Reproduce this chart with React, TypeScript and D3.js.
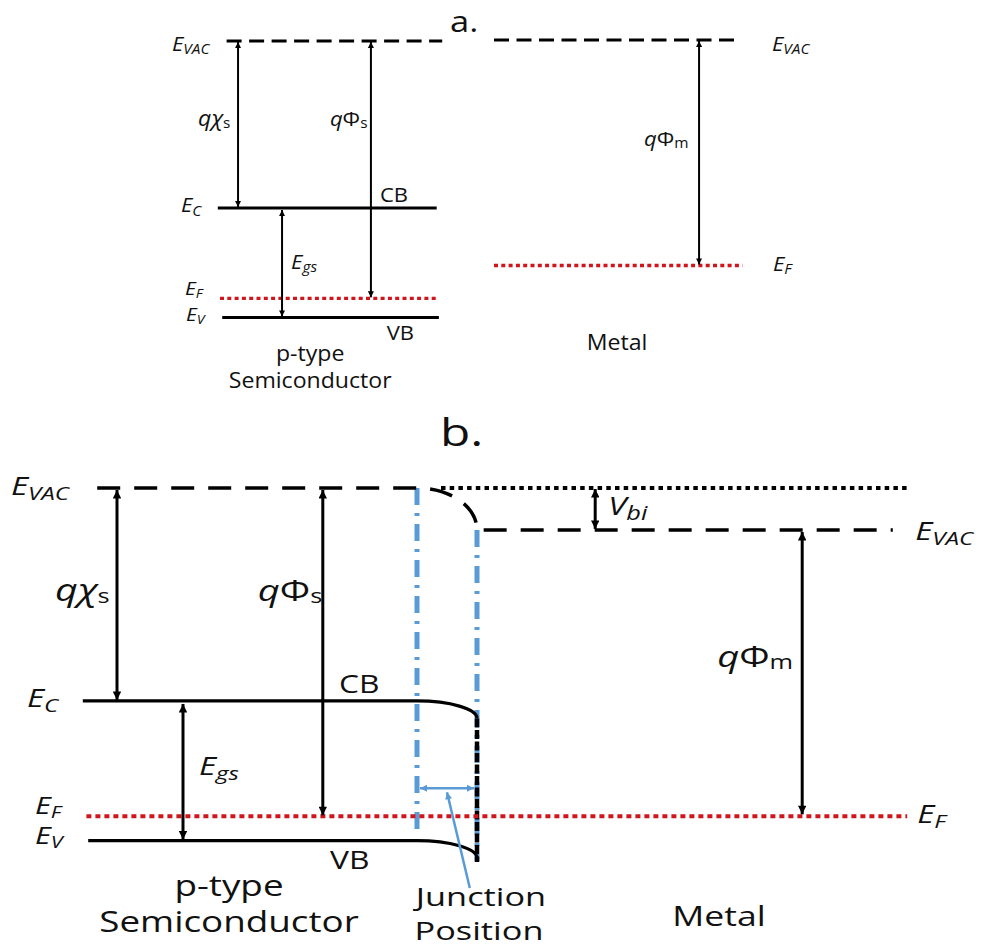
import React from "react";
import * as d3 from "d3";

// ---- Energy data (eV, measured from the semiconductor vacuum level) ----
const electronAffinity = 3.05; // qχs
const bandGap = 2.0; // Egs
const semiWorkFunction = 4.7; // qΦs
const metalWorkFunction = 4.1; // qΦm
const builtInPotential = semiWorkFunction - metalWorkFunction; // Vbi
const bandBending = 0.25; // drop of CB / VB drawn at the interface

// level energies for the isolated semiconductor: vacuum, CB edge, Fermi level, VB edge
const semiLevelNames = ["EVAC", "EC", "EF", "EV"];
const semiLevelEnergy = [0, -electronAffinity, -semiWorkFunction, -(electronAffinity + bandGap)];

// metal levels (vacuum, Fermi) before and after contact
const metalLevelsApart = [0, -metalWorkFunction];
const metalLevelsContact = [-builtInPotential, -semiWorkFunction];

// positions in units of the depletion width W (junction at 0) for the contact diagram
const depletionEdge = -1;
const junction = 0;
const semiLeftEdge = -6.55;
const metalRightEdge = 7.17;
const arrowPositionsB = { chi: -6.0, gap: -4.9, phiS: -2.57, vbi: 1.97, phiM: 5.42 };

// fractional positions inside each block for the separated diagram
const arrowPositionsA = { chi: 0.082, gap: 0.282, phiS: 0.686, phiM: 0.817 };

const FONT = "'Open Sans', 'Noto Sans', sans-serif";
const BLUE = "#5b9bd5";
const RED = "#d0151d";

const W = 984;
const H = 949;

// ---- Scales ----
const yA = d3.scaleLinear().domain([0, -5.05]).range([41, 317.5]);
const xSemiA = d3.scaleLinear().domain([0, 1]).range([220, 440]);
const xMetA = d3.scaleLinear().domain([0, 1]).range([494, 745]);

const yB = d3.scaleLinear().domain([0, -5.05]).range([488, 840.6]);
const xB = d3.scaleLinear().domain([depletionEdge, junction]).range([417, 477]);

const [eVac, eC, eF, eV] = semiLevelEnergy;

type TxtProps = {
  x: number;
  y: number;
  size: number;
  sx: number;
  anchor?: "start" | "middle" | "end";
  italic?: boolean;
  children: React.ReactNode;
};

const Txt = ({ x, y, size, sx, anchor = "start", italic = false, children }: TxtProps) => (
  <text
    transform={`translate(${x},${y}) scale(${sx},1)`}
    fontSize={size}
    textAnchor={anchor}
    fontStyle={italic ? "italic" : "normal"}
    fill="#111"
  >
    {children}
  </text>
);

type SymProps = {
  x: number;
  y: number;
  sx: number;
  main: React.ReactNode;
  sub: string;
  size: number;
  subSize: number;
  subDy: number;
  subItalic?: boolean;
};

// italic symbol with a subscript (E_VAC, E_C, ...)
const Sym = ({ x, y, sx, main, sub, size, subSize, subDy, subItalic = true }: SymProps) => (
  <text transform={`translate(${x},${y}) scale(${sx},1)`} fill="#111">
    <tspan fontSize={size} fontStyle="italic">
      {main}
    </tspan>
    <tspan fontSize={subSize} dy={subDy} fontStyle={subItalic ? "italic" : "normal"}>
      {sub}
    </tspan>
  </text>
);

// q-prefixed energy labels: qχs, qΦs, qΦm
const QSym = ({
  x,
  y,
  sx,
  glyph,
  glyphItalic,
  sub,
  size,
  subSize,
  subDy,
}: {
  x: number;
  y: number;
  sx: number;
  glyph: string;
  glyphItalic: boolean;
  sub: string;
  size: number;
  subSize: number;
  subDy: number;
}) => (
  <text transform={`translate(${x},${y}) scale(${sx},1)`} fill="#111">
    <tspan fontSize={size} fontStyle="italic">
      q
    </tspan>
    <tspan fontSize={size} fontStyle={glyphItalic ? "italic" : "normal"}>
      {glyph}
    </tspan>
    <tspan fontSize={subSize} dy={subDy}>
      {sub}
    </tspan>
  </text>
);

const VArrow = ({
  x,
  y1,
  y2,
  marker,
  width,
}: {
  x: number;
  y1: number;
  y2: number;
  marker: string;
  width: number;
}) => (
  <line
    x1={x}
    x2={x}
    y1={y1}
    y2={y2}
    stroke="#000"
    strokeWidth={width}
    markerStart={`url(#${marker})`}
    markerEnd={`url(#${marker})`}
  />
);

export default function App() {
  // contact diagram paths: flat band then a quarter-ellipse bend into the junction
  const bend = (eFlat: number, drop: number) => {
    const x0 = xB(depletionEdge);
    const x1 = xB(junction);
    const y0 = yB(eFlat);
    const y1 = yB(eFlat - drop);
    return { x0, x1, y0, y1, rx: x1 - x0, ry: y1 - y0 };
  };

  const vacB = bend(eVac, builtInPotential);
  const cbB = bend(eC, bandBending);
  const vbB = bend(eV, bandBending);

  const vacPath =
    `M${xB(-6.33)},${vacB.y0} H${vacB.x0} ` +
    `A${vacB.rx},${vacB.ry} 0 0 1 ${vacB.x1},${vacB.y1} H${xB(6.93)}`;
  const cbPath =
    `M${xB(semiLeftEdge - 0.02)},${cbB.y0} H${cbB.x0} ` +
    `A${cbB.rx},${cbB.ry} 0 0 1 ${cbB.x1},${cbB.y1}`;
  const vbPath =
    `M${xB(-6.48)},${vbB.y0} H${vbB.x0} ` +
    `A${vbB.rx},${vbB.ry} 0 0 1 ${vbB.x1},${vbB.y1}`;

  const [mVacA, mFA] = metalLevelsApart;
  const [mVacB, mFB] = metalLevelsContact;

  const sxA = 1.1;
  const sxB = 1.27;

  const junctionArrowY = yB(-4.3);

  return (
    <svg
      width={W}
      height={H}
      viewBox={`0 0 ${W} ${H}`}
      style={{ position: "absolute", left: 0, top: 0, background: "#fff", fontFamily: FONT }}
    >
      <defs>
        <marker
          id="headA"
          viewBox="0 0 10 10"
          refX={10}
          refY={5}
          markerWidth={7}
          markerHeight={6}
          markerUnits="userSpaceOnUse"
          orient="auto-start-reverse"
        >
          <path d="M0,0 L10,5 L0,10 z" fill="#000" />
        </marker>
        <marker
          id="headB"
          viewBox="0 0 10 10"
          refX={10}
          refY={5}
          markerWidth={10}
          markerHeight={8.5}
          markerUnits="userSpaceOnUse"
          orient="auto-start-reverse"
        >
          <path d="M0,0 L10,5 L0,10 z" fill="#000" />
        </marker>
        <marker
          id="headBlue"
          viewBox="0 0 10 10"
          refX={10}
          refY={5}
          markerWidth={8}
          markerHeight={7}
          markerUnits="userSpaceOnUse"
          orient="auto-start-reverse"
        >
          <path d="M0,0 L10,5 L0,10 z" fill={BLUE} />
        </marker>
      </defs>

      <rect x={0} y={0} width={W} height={H} fill="#fff" />

      {/* ================= a. separated semiconductor and metal ================= */}
      <g>
        <Txt x={450} y={32} size={30} sx={1.15}>
          a.
        </Txt>

        {/* semiconductor levels */}
        <line
          x1={xSemiA(0.03)}
          x2={xSemiA(1.01)}
          y1={yA(eVac)}
          y2={yA(eVac)}
          stroke="#000"
          strokeWidth={2.8}
          strokeDasharray="15 7.5"
        />
        <line x1={xSemiA(-0.01)} x2={xSemiA(0.985)} y1={yA(eC)} y2={yA(eC)} stroke="#000" strokeWidth={2.8} />
        <line
          x1={xSemiA(0)}
          x2={xSemiA(0.99)}
          y1={yA(eF)}
          y2={yA(eF)}
          stroke={RED}
          strokeWidth={3.3}
          strokeDasharray="4 3.3"
        />
        <line x1={xSemiA(0.01)} x2={xSemiA(0.995)} y1={yA(eV)} y2={yA(eV)} stroke="#000" strokeWidth={2.8} />

        {/* metal levels */}
        <line
          x1={xMetA(0)}
          x2={xMetA(0.97)}
          y1={yA(mVacA) - 1}
          y2={yA(mVacA) - 1}
          stroke="#000"
          strokeWidth={2.8}
          strokeDasharray="15 7.5"
        />
        <line
          x1={xMetA(0)}
          x2={xMetA(0.99)}
          y1={yA(mFA)}
          y2={yA(mFA)}
          stroke={RED}
          strokeWidth={3.3}
          strokeDasharray="4 3.3"
        />

        {/* energy arrows */}
        <VArrow x={xSemiA(arrowPositionsA.chi)} y1={yA(eVac) + 1} y2={yA(eC) - 1} marker="headA" width={2} />
        <VArrow x={xSemiA(arrowPositionsA.gap)} y1={yA(eC) + 2} y2={yA(eV) - 1} marker="headA" width={2} />
        <VArrow x={xSemiA(arrowPositionsA.phiS)} y1={yA(eVac) + 1} y2={yA(eF) - 1} marker="headA" width={2} />
        <VArrow x={xMetA(arrowPositionsA.phiM)} y1={yA(mVacA)} y2={yA(mFA) - 1} marker="headA" width={2} />

        {/* labels */}
        <Sym x={xSemiA(0) - 48} y={yA(eVac) + 10} sx={sxA} main="E" sub="VAC" size={20} subSize={14} subDy={3} />
        <Sym x={xMetA(1) + 27} y={yA(mVacA) + 10} sx={sxA} main="E" sub="VAC" size={20} subSize={14} subDy={3} />
        <QSym
          x={xSemiA(arrowPositionsA.chi) - 40}
          y={126}
          sx={sxA}
          glyph="χ"
          glyphItalic={true}
          sub="s"
          size={21}
          subSize={14}
          subDy={2}
        />
        <QSym
          x={xSemiA(arrowPositionsA.phiS) - 41}
          y={126}
          sx={sxA}
          glyph="Φ"
          glyphItalic={false}
          sub="s"
          size={20}
          subSize={14}
          subDy={2}
        />
        <QSym
          x={xMetA(arrowPositionsA.phiM) - 55}
          y={146}
          sx={sxA}
          glyph="Φ"
          glyphItalic={false}
          sub="m"
          size={20}
          subSize={14}
          subDy={2}
        />
        <Sym x={xSemiA(0) - 39} y={yA(eC) + 4} sx={sxA} main="E" sub="C" size={20} subSize={14} subDy={4} />
        <Txt x={xSemiA(0.727)} y={yA(eC) - 6} size={20} sx={sxA}>
          CB
        </Txt>
        <Sym
          x={xSemiA(arrowPositionsA.gap) + 9}
          y={269}
          sx={sxA}
          main="E"
          sub="gs"
          size={20}
          subSize={14}
          subDy={3}
        />
        <Sym x={xSemiA(0) - 35} y={yA(eF) - 3} sx={sxA} main="E" sub="F" size={19} subSize={13} subDy={3} />
        <Sym x={xSemiA(0) - 34} y={yA(eV) + 3} sx={sxA} main="E" sub="V" size={19} subSize={13} subDy={3} />
        <Txt x={xSemiA(0.758)} y={yA(eV) + 22} size={20} sx={sxA}>
          VB
        </Txt>
        <Txt x={xSemiA(0.41)} y={361} size={21} sx={sxA} anchor="middle">
          p-type
        </Txt>
        <Txt x={xSemiA(0.41)} y={388} size={21} sx={sxA} anchor="middle">
          Semiconductor
        </Txt>
        <Txt x={xMetA(0.49)} y={350} size={21} sx={sxA} anchor="middle">
          Metal
        </Txt>
        <Sym x={xMetA(1) + 28} y={yA(mFA) + 6} sx={sxA} main="E" sub="F" size={20} subSize={14} subDy={3} />
      </g>

      {/* ================= b. metal / p-type contact ================= */}
      <g>
        <Txt x={440} y={446} size={39} sx={sxB}>
          b.
        </Txt>

        {/* semiconductor vacuum level continuing past the interface */}
        <line
          x1={xB(-0.6)}
          x2={xB(metalRightEdge)}
          y1={yB(eVac)}
          y2={yB(eVac)}
          stroke="#000"
          strokeWidth={3.8}
          strokeDasharray="4.5 4.2"
        />

        {/* depletion edge and junction markers */}
        <line
          x1={xB(depletionEdge)}
          x2={xB(depletionEdge)}
          y1={yB(eVac)}
          y2={yB(eV) - 4}
          stroke={BLUE}
          strokeWidth={5}
          strokeDasharray="17 8 3 8"
        />
        <line
          x1={xB(junction)}
          x2={xB(junction)}
          y1={yB(mVacB)}
          y2={vbB.y1 + 3}
          stroke={BLUE}
          strokeWidth={5}
          strokeDasharray="17 8 3 8"
        />

        {/* bent vacuum level */}
        <path d={vacPath} fill="none" stroke="#000" strokeWidth={3.5} strokeDasharray="23 14" />

        {/* conduction and valence bands */}
        <path d={cbPath} fill="none" stroke="#000" strokeWidth={3.3} />
        <path d={vbPath} fill="none" stroke="#000" strokeWidth={3.3} />

        {/* interface */}
        <line
          x1={xB(junction)}
          x2={xB(junction)}
          y1={cbB.y1}
          y2={vbB.y1 + 4}
          stroke="#000"
          strokeWidth={4.5}
          strokeDasharray="9 2.5"
        />

        {/* Fermi level across the contact */}
        <line
          x1={xB(semiLeftEdge + 0.04)}
          x2={xB(metalRightEdge)}
          y1={yB(eF)}
          y2={yB(mFB)}
          stroke={RED}
          strokeWidth={4}
          strokeDasharray="5 4"
        />

        {/* energy arrows */}
        <VArrow x={xB(arrowPositionsB.chi)} y1={yB(eVac) + 2} y2={yB(eC) - 1} marker="headB" width={3} />
        <VArrow x={xB(arrowPositionsB.gap)} y1={yB(eC) + 3} y2={yB(eV) - 1} marker="headB" width={3} />
        <VArrow x={xB(arrowPositionsB.phiS)} y1={yB(eVac) + 2} y2={yB(eF) - 1} marker="headB" width={3} />
        <VArrow x={xB(arrowPositionsB.vbi)} y1={yB(eVac) + 1} y2={yB(mVacB) - 1} marker="headB" width={3} />
        <VArrow x={xB(arrowPositionsB.phiM)} y1={yB(mVacB) + 2} y2={yB(mFB) - 2} marker="headB" width={3} />

        {/* depletion width */}
        <line
          x1={xB(depletionEdge) + 3}
          x2={xB(junction) - 3}
          y1={junctionArrowY}
          y2={junctionArrowY}
          stroke={BLUE}
          strokeWidth={2.5}
          markerStart="url(#headBlue)"
          markerEnd="url(#headBlue)"
        />
        <line
          x1={xB(-0.12)}
          y1={888}
          x2={xB(-0.5)}
          y2={junctionArrowY + 4}
          stroke={BLUE}
          strokeWidth={2.5}
          markerEnd="url(#headBlue)"
        />

        {/* labels */}
        <Sym x={11} y={yB(eVac) + 7} sx={sxB} main="E" sub="VAC" size={26} subSize={19} subDy={5} />
        <Sym x={xB(metalRightEdge) + 8} y={yB(mVacB) + 10} sx={sxB} main="E" sub="VAC" size={26} subSize={19} subDy={5} />
        <QSym
          x={xB(arrowPositionsB.chi) - 62}
          y={601}
          sx={sxB}
          glyph="χ"
          glyphItalic={true}
          sub="s"
          size={31}
          subSize={20}
          subDy={2}
        />
        <QSym
          x={xB(arrowPositionsB.phiS) - 65}
          y={601}
          sx={sxB}
          glyph="Φ"
          glyphItalic={false}
          sub="s"
          size={30}
          subSize={20}
          subDy={2}
        />
        <QSym
          x={xB(arrowPositionsB.phiM) - 85}
          y={667}
          sx={sxB}
          glyph="Φ"
          glyphItalic={false}
          sub="m"
          size={30}
          subSize={20}
          subDy={2}
        />
        <Sym
          x={xB(arrowPositionsB.vbi) + 13}
          y={yB(mVacB) - 15}
          sx={sxB}
          main="V"
          sub="bi"
          size={26}
          subSize={20}
          subDy={5}
        />
        <Sym x={27} y={yB(eC) + 6} sx={sxB} main="E" sub="C" size={26} subSize={19} subDy={5} />
        <Txt x={xB(-2.3)} y={yB(eC) - 8} size={25} sx={sxB}>
          CB
        </Txt>
        <Sym
          x={xB(arrowPositionsB.gap) + 16}
          y={775}
          sx={sxB}
          main="E"
          sub="gs"
          size={26}
          subSize={19}
          subDy={5}
        />
        <Sym x={35} y={yB(eF) - 2} sx={sxB} main="E" sub="F" size={24} subSize={17} subDy={4} />
        <Sym x={35} y={yB(eV) + 3} sx={sxB} main="E" sub="V" size={24} subSize={17} subDy={4} />
        <Txt x={xB(-2.45)} y={yB(eV) + 28} size={25} sx={sxB}>
          VB
        </Txt>
        <Txt x={229} y={896} size={29} sx={sxB} anchor="middle">
          p-type
        </Txt>
        <Txt x={229} y={932} size={29} sx={sxB} anchor="middle">
          Semiconductor
        </Txt>
        <Txt x={xB(junction) + 4} y={906} size={26} sx={1.32} anchor="middle">
          Junction
        </Txt>
        <Txt x={xB(junction) + 2} y={940} size={26} sx={1.32} anchor="middle">
          Position
        </Txt>
        <Txt x={xB(junction) + 242} y={926} size={28} sx={sxB} anchor="middle">
          Metal
        </Txt>
        <Sym x={xB(metalRightEdge) + 10} y={yB(mFB) + 7} sx={sxB} main="E" sub="F" size={26} subSize={19} subDy={5} />
      </g>
    </svg>
  );
}
